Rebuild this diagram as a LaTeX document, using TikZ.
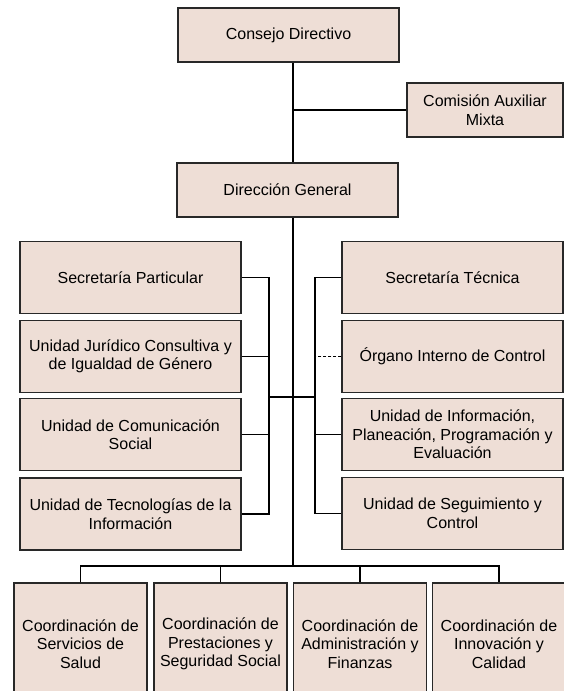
\documentclass[tikz,border=0pt]{standalone}
\usepackage{fontspec}
\setmainfont{Liberation Sans}
\usepackage{xcolor}
\usepackage{tikz}

\definecolor{boxfill}{RGB}{238,222,214}
\definecolor{boxline}{RGB}{40,40,40}

\begin{document}
\begin{tikzpicture}[x=1pt, y=-1pt,
    box/.style={draw=boxline, fill=boxfill, line width=1.3pt, minimum width=221pt,
                minimum height=72pt, inner sep=2pt, align=center,
                font=\fontsize{16}{18.5}\selectfont},
    small/.style={box, minimum height=54pt},
    coord/.style={box, minimum width=133pt, minimum height=122pt},
    ln/.style={draw=black, line width=1.3pt}
  ]
    \useasboundingbox (0,0) rectangle (564,691);
    \clip (0,0) rectangle (564,691);

    % top of the chart
    \node[small] (consejo) at (288.5,35) {Consejo Directivo};
    \node[small, minimum width=156pt] (comision) at (485,110) {Comisión Auxiliar\\Mixta};
    \node[small] (direccion) at (287.5,190) {Dirección General};

    % left column
    \node[box] (sp) at (130.5,277.5) {Secretaría Particular};
    \node[box] (ujc) at (130.5,356.5) {Unidad Jurídico Consultiva y\\de Igualdad de Género};
    \node[box] (ucs) at (130.5,434.5) {Unidad de Comunicación\\Social};
    \node[box] (uti) at (130.5,514) {Unidad de Tecnologías de la\\Información};

    % right column
    \node[box] (st) at (452.5,277.5) {Secretaría Técnica};
    \node[box] (oic) at (452.5,356.5) {Órgano Interno de Control};
    \node[box] (uip) at (452.5,434.5) {Unidad de Información,\\Planeación, Programación y\\Evaluación};
    \node[box] (usc) at (452.5,513.5) {Unidad de Seguimiento y\\Control};

    % coordinations
    \node[coord] (css) at (80.5,644) {Coordinación de\\Servicios de\\Salud};
    \node[coord] (cps) at (220.5,644) {Coordinación de\\Prestaciones y\\Seguridad Social};
    \node[coord] (caf) at (360,644) {Coordinación de\\Administración y\\Finanzas};
    \node[coord] (cic) at (499,644) {Coordinación de\\Innovación y\\Calidad};

    \coordinate (mid) at (293,397);
    \coordinate (lb) at (269,397);
    \coordinate (rb) at (315,397);
    \coordinate (bus) at (293,566);

    \draw[ln] (consejo.south -| mid) -- (direccion.north -| mid);
    \draw[ln] (comision.west) -- (comision.west -| mid);
    \draw[ln] (direccion.south -| mid) -- (bus);

    \draw[ln] (sp.east) -- (sp.east -| lb) -- (uti.east -| lb) -- (uti.east);
    \draw[ln] (ujc.east) -- (ujc.east -| lb);
    \draw[ln] (ucs.east) -- (ucs.east -| lb);
    \draw[ln] (lb) -- (rb);

    \draw[ln] (st.west) -- (st.west -| rb) -- (usc.west -| rb) -- (usc.west);
    \draw[ln] (uip.west) -- (uip.west -| rb);
    \draw[ln, dash pattern=on 3pt off 2pt] (oic.west) -- (oic.west -| rb);

    \draw[ln] (css.north) -- (css.north |- bus) -- (cic.north |- bus) -- (cic.north);
    \draw[ln] (cps.north) -- (cps.north |- bus);
    \draw[ln] (caf.north) -- (caf.north |- bus);
\end{tikzpicture}
\end{document}
